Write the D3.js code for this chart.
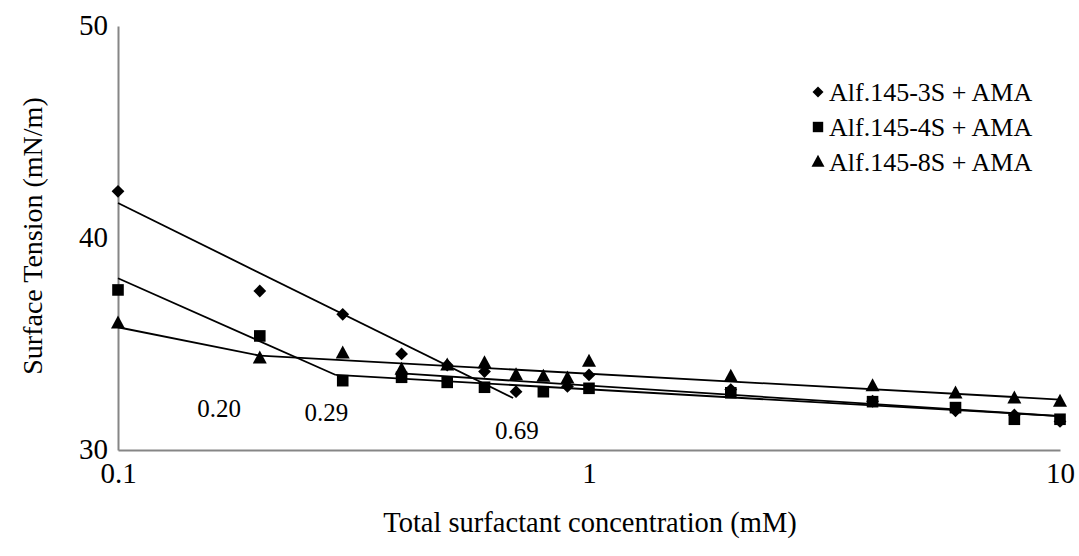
<!DOCTYPE html>
<html>
<head>
<meta charset="utf-8">
<script src="https://cdn.jsdelivr.net/npm/d3@7"></script>
<style>
  html, body { margin: 0; padding: 0; background: #fff; }
  svg { display: block; }
  text { font-family: "Liberation Serif", "Times New Roman", Times, serif; fill: #000; }
</style>
</head>
<body>
<svg id="chart" width="1079" height="556"></svg>
<script>
// ---- data ----
const concentrations = [0.1, 0.2, 0.3, 0.4, 0.5, 0.6, 0.7, 0.8, 0.9, 1, 2, 4, 6, 8, 10];
const series3S = [42.2, 37.5, 36.4, 34.53, 34.0, 33.7, 32.75, null, 33.0, 33.54, 32.85, 32.3, 31.85, 31.65, 31.35];
const series4S = [37.55, 35.38, 33.27, 33.43, 33.19, 32.96, null, 32.75, null, 32.91, 32.7, 32.28, 32.0, 31.45, 31.45];
const series8S = [35.98, 34.33, 34.56, 33.8, 34.0, 34.1, 33.54, 33.46, 33.38, 34.17, 33.46, 33.02, 32.67, 32.44, 32.28];
const seriesNames = ["Alf.145-3S + AMA", "Alf.145-4S + AMA", "Alf.145-8S + AMA"];

// trend line segments: [x0, x1], [y0, y1]
const trend3S_pre_x = [0.1, 0.69],  trend3S_pre_y = [41.65, 32.45];
const trend3S_post_x = [0.4, 10],   trend3S_post_y = [33.61, 31.6];
const trend4S_pre_x = [0.1, 0.29],  trend4S_pre_y = [38.1, 33.54];
const trend4S_post_x = [0.29, 10],  trend4S_post_y = [33.54, 31.6];
const trend8S_pre_x = [0.1, 0.2],   trend8S_pre_y = [35.79, 34.45];
const trend8S_post_x = [0.2, 10],   trend8S_post_y = [34.45, 32.38];

const cmcLabels = ["0.20", "0.29", "0.69"];
const cmcLabelX = [0.164, 0.277, 0.703];
const cmcLabelY = [31.98, 31.8, 30.94];

const xTicks = [0.1, 1, 10];
const xTickLabels = ["0.1", "1", "10"];
const yTicks = [30, 40, 50];

// ---- chart ----
const svg = d3.select("#chart");
const x = d3.scaleLog().domain([0.1, 10]).range([118, 1060]);
const y = d3.scaleLinear().domain([30, 50]).range([450, 26]);

const axisColor = "#868686";
const serif = "'Liberation Serif', 'Times New Roman', Times, serif";

// axes
const gx = svg.append("g").attr("transform", "translate(0,450)")
  .call(d3.axisBottom(x).tickValues(xTicks).tickFormat((d, i) => xTickLabels[i]).tickSize(0).tickSizeOuter(0).tickPadding(12));
const gy = svg.append("g").attr("transform", "translate(118,0)")
  .call(d3.axisLeft(y).tickValues(yTicks).tickFormat(d3.format("d")).tickSize(0).tickSizeOuter(0).tickPadding(10));
[gx, gy].forEach(g => {
  g.select(".domain").attr("stroke", axisColor).attr("stroke-width", 2);
  g.selectAll("text").style("font-family", serif).style("font-size", "29px").attr("fill", "#000");
});
gx.selectAll("text").attr("dy", "0.71em");
gy.selectAll("text").attr("dy", "0.3em");

// axis titles
svg.append("text").attr("x", 590).attr("y", 532).attr("text-anchor", "middle")
  .style("font-family", serif).style("font-size", "28.5px").text("Total surfactant concentration (mM)");
svg.append("text").attr("transform", "translate(42,236) rotate(-90)").attr("text-anchor", "middle")
  .style("font-family", serif).style("font-size", "28px").text("Surface Tension (mN/m)");

// trend lines
const trends = [
  [trend3S_pre_x, trend3S_pre_y], [trend3S_post_x, trend3S_post_y],
  [trend4S_pre_x, trend4S_pre_y], [trend4S_post_x, trend4S_post_y],
  [trend8S_pre_x, trend8S_pre_y], [trend8S_post_x, trend8S_post_y]
];
const line = d3.line().x(d => x(d[0])).y(d => y(d[1]));
trends.forEach(([xs, ys]) => {
  svg.append("path").datum(xs.map((v, i) => [v, ys[i]]))
    .attr("d", line).attr("fill", "none").attr("stroke", "#000").attr("stroke-width", 1.8);
});

// marker shapes
function diamondPath(r) { return `M0,${-r}L${r},0L0,${r}L${-r},0Z`; }
function squarePath(h) { return `M${-h},${-h}H${h}V${h}H${-h}Z`; }
function trianglePath(w, h) { return `M0,${-h * 0.6}L${w / 2},${h * 0.4}L${-w / 2},${h * 0.4}Z`; }
const shapes = [diamondPath(6.4), squarePath(5.8), trianglePath(14, 13)];
const allSeries = [series3S, series4S, series8S];

allSeries.forEach((vals, si) => {
  const pts = concentrations.map((c, i) => [c, vals[i]]).filter(d => d[1] != null);
  svg.append("g").selectAll("path").data(pts).enter().append("path")
    .attr("d", shapes[si])
    .attr("transform", d => `translate(${x(d[0])},${y(d[1])})`)
    .attr("fill", "#000");
});

// CMC annotations
cmcLabels.forEach((t, i) => {
  svg.append("text").attr("x", x(cmcLabelX[i])).attr("y", y(cmcLabelY[i]))
    .attr("text-anchor", "middle").attr("dy", "0.35em")
    .style("font-family", serif).style("font-size", "25px").text(t);
});

// legend
const legend = svg.append("g").attr("transform", "translate(818,92)");
seriesNames.forEach((name, i) => {
  const g = legend.append("g").attr("transform", `translate(0,${i * 35})`);
  const legShapes = [diamondPath(5.5), squarePath(5.2), trianglePath(13, 12)];
  g.append("path").attr("d", legShapes[i]).attr("fill", "#000");
  g.append("text").attr("x", 11).attr("dy", "0.35em")
    .style("font-family", serif).style("font-size", "26px").text(name);
});
</script>
</body>
</html>
